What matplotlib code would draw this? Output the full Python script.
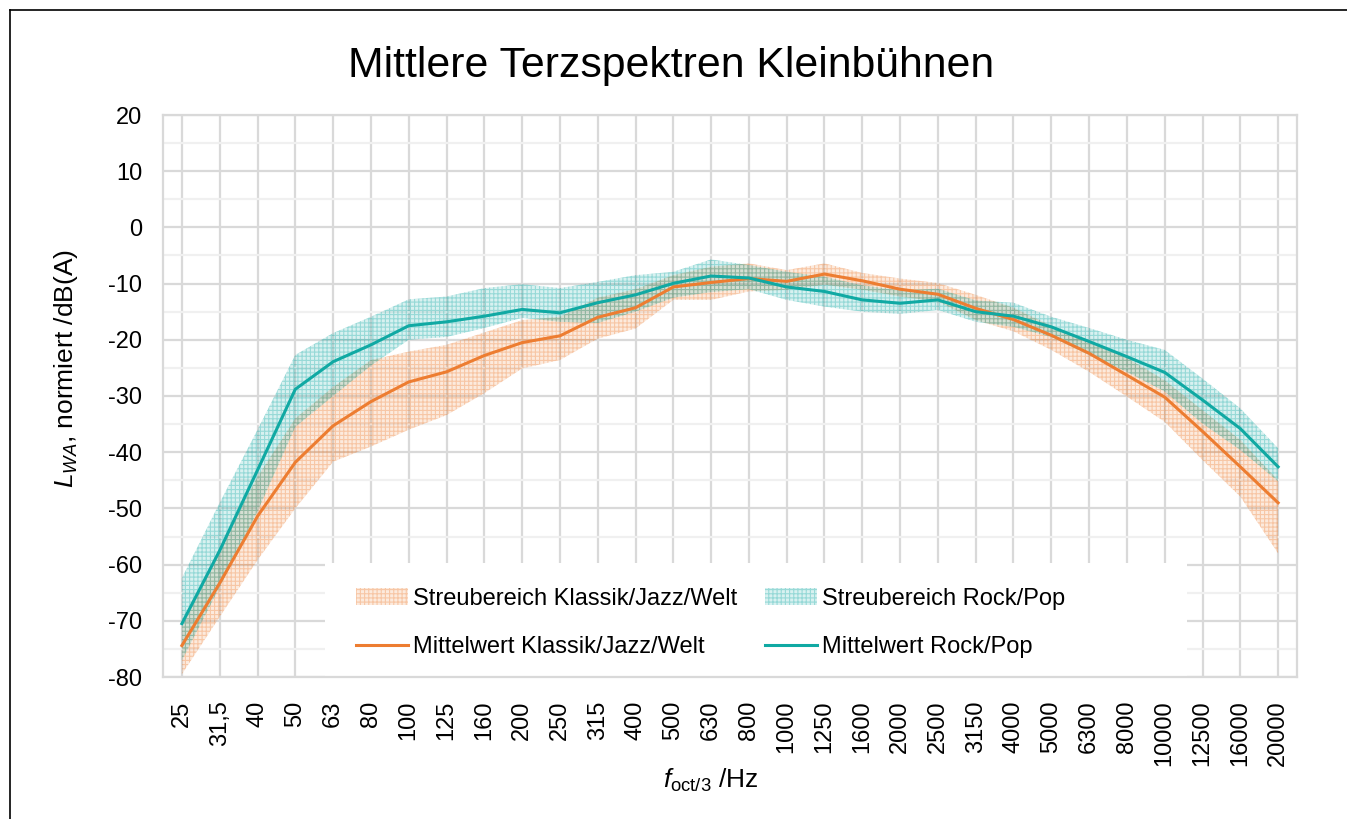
import matplotlib
matplotlib.use("Agg")
import matplotlib.pyplot as plt
from matplotlib.lines import Line2D
from matplotlib.patches import Rectangle
import numpy as np

plt.rcParams['font.family'] = ['Liberation Sans', 'DejaVu Sans']
plt.rcParams['mathtext.fontset'] = 'custom'
plt.rcParams['mathtext.rm'] = 'Liberation Sans'
plt.rcParams['mathtext.it'] = 'Liberation Sans:italic'
plt.rcParams['hatch.linewidth'] = 0.8
plt.rcParams['axes.unicode_minus'] = False

freq_labels = ["25", "31,5", "40", "50", "63", "80", "100", "125", "160", "200",
               "250", "315", "400", "500", "630", "800", "1000", "1250", "1600", "2000",
               "2500", "3150", "4000", "5000", "6300", "8000", "10000", "12500", "16000", "20000"]

klassik_mean = [-74.4, -63.3, -51.4, -41.8, -35.3, -31.0, -27.5, -25.7, -22.8, -20.5,
                -19.3, -16.0, -14.3, -10.6, -9.8, -9.1, -9.6, -8.3, -9.5, -11.0,
                -11.9, -14.4, -16.4, -19.2, -22.4, -26.3, -30.2, -36.3, -42.6, -49.0]
klassik_upper = [-71.0, -57.0, -44.4, -34.0, -28.4, -23.6, -22.1, -20.9, -18.7, -16.5,
                 -15.9, -12.5, -11.0, -8.5, -7.0, -6.4, -7.6, -6.4, -8.1, -9.1,
                 -9.9, -12.0, -14.3, -17.5, -20.1, -23.2, -27.2, -32.5, -37.8, -45.0]
klassik_lower = [-79.5, -69.3, -59.2, -50.0, -41.7, -39.0, -36.0, -33.4, -29.5, -25.1,
                 -23.6, -19.8, -18.0, -12.9, -12.9, -11.4, -11.1, -10.2, -11.1, -12.3,
                 -13.2, -16.5, -18.5, -21.8, -25.7, -30.1, -34.6, -41.4, -47.9, -58.0]

rock_mean = [-70.5, -57.5, -43.2, -28.8, -23.9, -20.9, -17.5, -16.8, -15.8, -14.6,
             -15.2, -13.4, -12.0, -9.95, -8.65, -9.0, -10.6, -11.4, -12.9, -13.5,
             -12.9, -15.0, -15.8, -17.7, -20.3, -23.0, -25.8, -30.7, -35.8, -42.6]
rock_upper = [-62.4, -49.0, -36.0, -22.7, -18.8, -15.9, -12.8, -12.3, -10.8, -10.1,
              -10.8, -9.7, -8.5, -7.9, -5.7, -6.7, -7.9, -8.8, -10.3, -11.2,
              -10.9, -13.0, -13.4, -15.9, -17.9, -20.0, -21.8, -26.9, -32.2, -39.3]
rock_lower = [-77.0, -64.0, -50.5, -35.5, -30.0, -24.6, -20.0, -19.5, -17.9, -16.1,
              -16.8, -17.0, -15.0, -12.5, -11.5, -11.0, -12.9, -14.1, -15.0, -15.4,
              -14.7, -16.8, -17.7, -19.5, -22.7, -25.7, -29.2, -34.9, -39.6, -45.2]

ORANGE = '#ED7D31'
TEAL = '#10A9A3'

W, H = 1347, 819
fig = plt.figure(figsize=(W / 100, H / 100), dpi=100)
ax = fig.add_axes([163 / W, 1 - 677 / H, (1297 - 163) / W, (677 - 115) / H])

x = np.arange(len(freq_labels))

# grid
ax.set_axisbelow(True)
ax.set_yticks(np.arange(-80, 21, 10))
ax.set_yticks(np.arange(-75, 20, 5), minor=True)
ax.yaxis.grid(True, which='major', color='#D9D9D9', linewidth=1.6)
ax.yaxis.grid(True, which='minor', color='#F0F0F0', linewidth=1.6)
ax.set_xticks(x)
ax.xaxis.grid(True, which='major', color='#D9D9D9', linewidth=1.6)

# white legend background area
ax.add_patch(Rectangle((0.143, 0.0), 0.903 - 0.143, 0.203, transform=ax.transAxes,
                       facecolor='white', edgecolor='none', zorder=1.5))

# bands
ax.fill_between(x, klassik_lower, klassik_upper, facecolor=(0.93, 0.49, 0.19, 0.16),
                edgecolor=(0.93, 0.49, 0.19, 0.32), hatch='++++', linewidth=0,
                label='Streubereich Klassik/Jazz/Welt', zorder=2)
ax.fill_between(x, rock_lower, rock_upper, facecolor=(0.06, 0.66, 0.64, 0.16),
                edgecolor=(0.06, 0.66, 0.64, 0.32), hatch='++++', linewidth=0,
                label='Streubereich Rock/Pop', zorder=2)
ax.plot(x, klassik_mean, color=ORANGE, linewidth=2.2, label='Mittelwert Klassik/Jazz/Welt', zorder=3)
ax.plot(x, rock_mean, color=TEAL, linewidth=2.2, label='Mittelwert Rock/Pop', zorder=3)

ax.set_xlim(-0.5, len(x) - 0.5)
ax.set_ylim(-80, 20)
ax.set_xticklabels(freq_labels, rotation=90, va='top', ha='center', fontsize=17)
ax.tick_params(axis='x', length=0, pad=17)
ax.tick_params(axis='y', length=0, pad=15, labelsize=17)
ax.tick_params(axis='y', which='minor', length=0)
for s in ax.spines.values():
    s.set_color('#D9D9D9')
    s.set_linewidth(1.6)

handles, labels = ax.get_legend_handles_labels()
order = [0, 2, 1, 3]
leg = ax.legend([handles[i] for i in order], [labels[i] for i in order],
                ncol=2, loc='center', bbox_to_anchor=(0.483, 0.096), fontsize=17,
                frameon=False,
                handlelength=2.2, handletextpad=0.2, labelspacing=1.12,
                columnspacing=1.2, borderpad=0.5)
leg.set_zorder(4)

fig.text(671 / W, 1 - 66 / H, 'Mittlere Terzspektren Kleinbühnen', fontsize=30.8,
         ha='center', va='center')
fig.text(66 / W, 1 - 368 / H, r'$L_{WA}$, normiert /dB(A)', fontsize=19,
         rotation=90, ha='center', va='center')
fig.text(711 / W, 1 - 780 / H, r'$f_{\mathrm{oct/3}}$ /Hz', fontsize=19,
         ha='center', va='center')

# figure border (left and top visible)
fig.add_artist(Line2D([9.5 / W, 9.5 / W], [0, 1 - 9.5 / H], transform=fig.transFigure,
                      color='black', linewidth=1.2))
fig.add_artist(Line2D([9.5 / W, 1], [1 - 9.5 / H, 1 - 9.5 / H], transform=fig.transFigure,
                      color='black', linewidth=1.2))

fig.savefig('out.png', dpi=100)
